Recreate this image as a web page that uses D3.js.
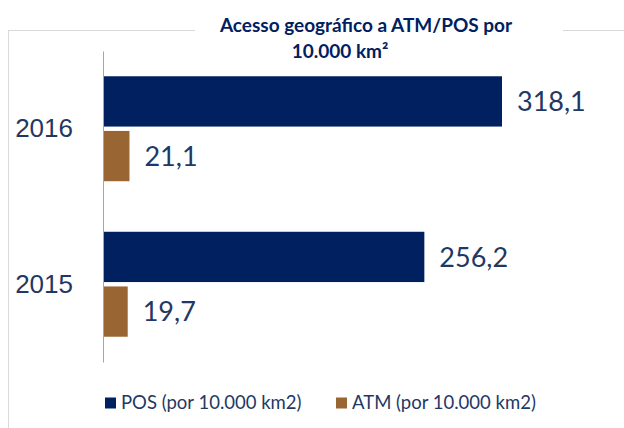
<!DOCTYPE html>
<html>
<head>
<meta charset="utf-8">
<script src="https://d3js.org/d3.v7.min.js"></script>
<style>
body { margin: 0; background: #fff; }
svg { display: block; font-family: Lato, "Open Sans", sans-serif; }
.year text { font-size: 26px; fill: #1f3864; }
.year path { stroke: #a6a6a6; }
.val { font-size: 27px; fill: #1f3864; }
.legend text { font-size: 18.5px; fill: #1f3864; }
.title { font-size: 19px; font-weight: bold; fill: #002060; }
</style>
</head>
<body>
<script>

// data
var years = ["2016", "2015"];
var series = ["POS", "ATM"];
var posValues = [318.1, 256.2];
var atmValues = [21.1, 19.7];
var legendLabels = ["POS (por 10.000 km2)", "ATM (por 10.000 km2)"];
var colors = ["#002060", "#996633"];

var W = 624, H = 428;

var svg = d3.select("body").append("svg")
    .attr("width", W)
    .attr("height", H);

// chart frame (cut off on the right, like the original)
svg.append("rect")
    .attr("x", 8.5).attr("y", 30.5)
    .attr("width", 700).attr("height", 500)
    .attr("fill", "none")
    .attr("stroke", "#d9d9d9");

// title box hides the frame behind the title
svg.append("rect")
    .attr("x", 195).attr("y", 20)
    .attr("width", 368).attr("height", 20)
    .attr("fill", "#fff");

svg.append("text").attr("class", "title")
    .attr("x", 366).attr("y", 32)
    .attr("text-anchor", "middle")
    .text("Acesso geográfico a ATM/POS por");

svg.append("text").attr("class", "title")
    .attr("x", 340).attr("y", 58)
    .attr("text-anchor", "middle")
    .text("10.000 km²");

var x = d3.scaleLinear()
    .domain([0, 350])
    .range([103, 542]);

var y = d3.scaleBand()
    .domain(years)
    .range([51, 362])
    .paddingInner(0.325)
    .paddingOuter(0.1625);

var ySub = d3.scaleBand()
    .domain(series)
    .range([0, y.bandwidth()])
    .paddingInner(0.08);

var rows = years.map(function(yr, i) {
    return { year: yr, values: [posValues[i], atmValues[i]] };
});

var groups = svg.selectAll(".row")
    .data(rows)
  .enter().append("g")
    .attr("class", "row")
    .attr("transform", function(d) { return "translate(0," + y(d.year) + ")"; });

var bars = groups.selectAll(".bar")
    .data(function(d) {
        return d.values.map(function(v, j) { return { key: series[j], value: v, color: colors[j] }; });
    })
  .enter();

bars.append("rect")
    .attr("class", "bar")
    .attr("x", x(0))
    .attr("y", function(d) { return ySub(d.key); })
    .attr("width", function(d) { return x(d.value) - x(0); })
    .attr("height", ySub.bandwidth())
    .attr("fill", function(d) { return d.color; });

bars.append("text")
    .attr("class", "val")
    .attr("x", function(d) { return x(d.value) + 15; })
    .attr("y", function(d) { return ySub(d.key) + ySub.bandwidth() / 2; })
    .attr("dy", "0.36em")
    .text(function(d) { return d3.format(".1f")(d.value).replace(".", ","); });

var yAxis = d3.axisLeft(y)
    .tickSize(0)
    .tickSizeOuter(0)
    .tickPadding(30);

svg.append("g")
    .attr("class", "year")
    .attr("transform", "translate(" + x(0) + ",0)")
    .call(yAxis)
    .call(function(g) { g.selectAll("text").attr("font-family", null).attr("font-size", null); });

// legend
var legendX = [105, 336];
var legend = svg.selectAll(".legend")
    .data(legendLabels)
  .enter().append("g")
    .attr("class", "legend")
    .attr("transform", function(d, i) { return "translate(" + legendX[i] + ",403)"; });

legend.append("rect")
    .attr("x", 0).attr("y", -5.5)
    .attr("width", 11).attr("height", 11)
    .attr("fill", function(d, i) { return colors[i]; });

legend.append("text")
    .attr("x", 16)
    .attr("dy", "0.35em")
    .text(function(d) { return d; });

</script>
</body>
</html>
